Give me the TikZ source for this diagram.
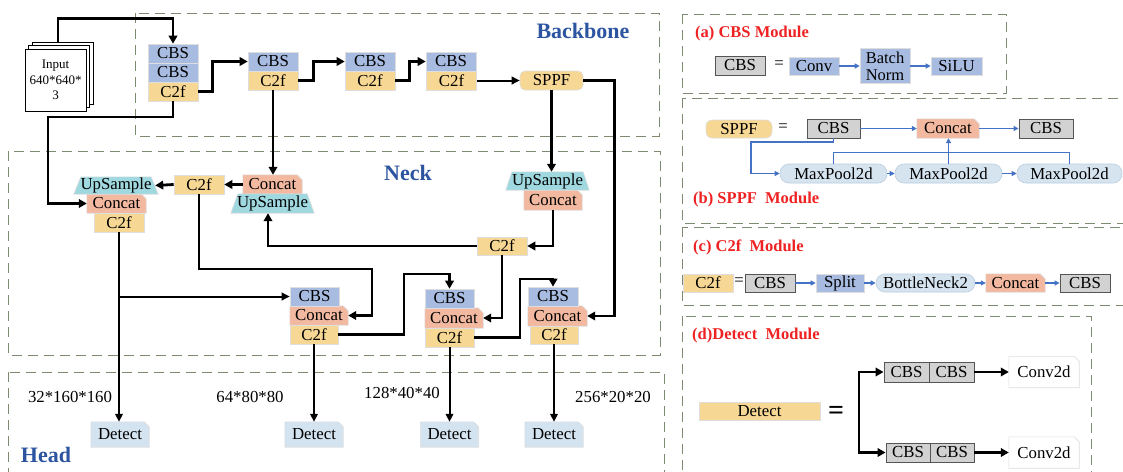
\documentclass[tikz,border=0pt]{standalone}
\usepackage{fontspec}
\setmainfont{Liberation Serif}
\usetikzlibrary{arrows.meta,backgrounds}
\definecolor{cbsblue}{RGB}{168,187,224}
\definecolor{c2fyel}{RGB}{247,215,148}
\definecolor{catsal}{RGB}{242,185,160}
\definecolor{upteal}{RGB}{160,216,224}
\definecolor{detblue}{RGB}{212,227,240}
\definecolor{mpblue}{RGB}{214,228,240}
\definecolor{mpedge}{RGB}{185,205,222}
\definecolor{cbsgray}{RGB}{210,210,210}
\definecolor{grayedge}{RGB}{85,85,85}
\definecolor{edgelt}{RGB}{222,222,222}
\definecolor{dashcol}{RGB}{125,140,112}
\definecolor{titleblue}{RGB}{44,84,160}
\definecolor{modred}{RGB}{238,34,34}
\definecolor{arrblue}{RGB}{68,114,196}
\newcommand\mycut[3]{\filldraw[fill=#2,draw=#3,line width=0.6] (#1.south west) -- (#1.south east) -- ([yshift=-5pt]#1.north east) -- ([xshift=-5pt]#1.north east) -- (#1.north west) -- cycle;}
\newcommand\mytrap[2]{\filldraw[fill=upteal,draw=edgelt,line width=0.6] (#1.south west) -- (#1.south east) -- ([xshift=-#2pt]#1.north east) -- ([xshift=#2pt]#1.north west) -- cycle;}
\tikzset{
 txt/.style={font=\fontsize{16.8}{18}\selectfont},
 bx/.style={txt, inner sep=0pt, minimum height=19, draw=edgelt, line width=0.6},
 cbs/.style={bx, fill=cbsblue, minimum width=50},
 c2f/.style={bx, fill=c2fyel, minimum width=50},
 shp/.style={txt, inner sep=0pt, minimum height=19},
 gcbs/.style={bx, fill=cbsgray, draw=grayedge, line width=0.9, minimum width=50},
 modbox/.style={bx, fill=cbsblue, minimum width=50},
 pill/.style={bx, fill=mpblue, draw=mpedge, rounded corners=9},
 area/.style={draw=dashcol, line width=1, dash pattern=on 10pt off 6pt},
 ttl/.style={font=\fontsize{22}{24}\selectfont\bfseries, text=titleblue},
 modttl/.style={font=\fontsize{16.5}{18}\selectfont\bfseries, text=modred, anchor=west, inner sep=0},
 fa/.style={line width=2.8, line join=miter, -{Triangle[length=8pt,width=8.5pt]}},
 ta/.style={line width=2.0, -{Triangle[length=8pt,width=7.5pt]}},
 ba/.style={draw=arrblue, line width=1.1, -{Triangle[length=5pt,width=5pt]}},
 bl/.style={draw=arrblue, line width=1.1},
 sheet/.style={draw, fill=white, minimum width=61, minimum height=62, inner sep=0, line width=0.8},
}
\begin{document}
\begin{tikzpicture}[x=1pt,y=-1pt]
\useasboundingbox (0,0) rectangle (1123,471);
\clip (0,0) rectangle (1123,471);
% areas
\draw[area] (135,13) rectangle (659,136);
\draw[area] (8,151) rectangle (660,355);
\draw[area] (8,372) rectangle (664,490);
\draw[area] (682,14) rectangle (1006,93);
\draw[area] (682,98) rectangle (1135,223);
\draw[area] (682,227) rectangle (1135,305);
\draw[area] (682,316) rectangle (1091,490);
% titles
\node[ttl] (tbb) at (583,31) {Backbone};
\node[ttl] (tnk) at (408,173) {Neck};
\node[ttl] (thd) at (46,455) {Head};
% input
\node[sheet] (inb) at (62.5,73) {};
\node[sheet] (inm) at (59,76.5) {};
\node[sheet, align=center, font=\fontsize{13}{15.5}\selectfont] (inp) at (55.5,80) {Input\\640*640*\\3};
% backbone
\node[cbs] (b1a) at (173,53.5) {CBS};
\node[cbs] (b1b) at (173,72.5) {CBS};
\node[c2f] (b1c) at (173,91.5) {C2f};
\node[cbs] (b2a) at (273,61.5) {CBS};
\node[c2f] (b2b) at (273,80.5) {C2f};
\node[cbs] (b3a) at (370,61.5) {CBS};
\node[c2f] (b3b) at (370,80.5) {C2f};
\node[cbs] (b4a) at (451,61.5) {CBS};
\node[c2f] (b4b) at (451.5,80.5) {C2f};
\node[bx, fill=c2fyel, minimum width=63, rounded corners=5] (sppf) at (551.5,80.5) {SPPF};
% neck
\node[shp, minimum width=83, minimum height=18] (upR) at (547.5,181) {UpSample};
\node[shp, minimum width=58, minimum height=20] (ccR) at (553,200) {Concat};
\node[c2f, minimum height=18] (c2R) at (502,246) {C2f};
\node[shp, minimum width=59] (ccM) at (272.5,184.5) {Concat};
\node[shp, minimum width=83] (upM) at (272.5,203.5) {UpSample};
\node[c2f] (c2M) at (199,184.5) {C2f};
\node[shp, minimum width=84, minimum height=17] (upL) at (116,185.5) {UpSample};
\node[shp, minimum width=59] (ccL) at (116.5,203.5) {Concat};
\node[c2f] (c2L) at (119,222.5) {C2f};
\node[cbs, minimum width=49] (k1a) at (314.5,296.5) {CBS};
\node[shp, minimum width=58] (k1b) at (319,315.5) {Concat};
\node[c2f, minimum width=48] (k1c) at (314,334.5) {C2f};
\node[cbs, minimum width=49] (k2a) at (449.5,298.5) {CBS};
\node[shp, minimum width=58, minimum height=20] (k2b) at (454,318) {Concat};
\node[c2f, minimum width=49] (k2c) at (449.5,337.5) {C2f};
\node[cbs] (k3a) at (553,296.5) {CBS};
\node[shp, minimum width=59, minimum height=20] (k3b) at (557.5,316) {Concat};
\node[c2f, minimum width=48, minimum height=18] (k3c) at (554,335) {C2f};
% head
\node[shp, minimum width=58, minimum height=25] (d1) at (120,434.5) {Detect};
\node[shp, minimum width=58, minimum height=25] (d2) at (314,434.5) {Detect};
\node[shp, minimum width=58, minimum height=25] (d3) at (449.5,434.5) {Detect};
\node[shp, minimum width=58, minimum height=25] (d4) at (554,434.5) {Detect};
\node[txt] (s1) at (70,397) {32*160*160};
\node[txt] (s2) at (250,397) {64*80*80};
\node[txt] (s3) at (402,393) {128*40*40};
\node[txt] (s4) at (613,397) {256*20*20};
% main connectors
\draw[fa] ([xshift=-4.5pt]inb.north) -- ++(0,-23) -| (b1a.north);
\draw[fa] (b1c.east) -- ++(14,0) |- (b2a.west);
\draw[fa] (b2b.east) -- ++(15,0) |- (b3a.west);
\draw[fa] (b3b.east) -- ++(14,0) |- (b4a.west);
\draw[ta] (b4b.east) -- (sppf.west);
\draw[fa] (sppf.east) -- ++(31,0) |- (k3b.east);
\draw[fa] (sppf.south) -- (sppf.south |- upR.north);
\coordinate (lft) at (48,117);
\draw[fa] (b1c.south) |- (lft) |- (ccL.west);
\draw[fa] (b2b.south) -- (b2b.south |- ccM.north);
\draw[fa] (ccM.west) -- (c2M.east);
\draw[fa] (c2M.west) -- ([xshift=-3pt]upL.east);
\draw[fa] (ccR.south) |- (c2R.east);
\draw[fa] (c2R.west) -| ([xshift=-4.5pt]upM.south);
\coordinate (m1) at (372,269);
\draw[fa] (c2M.south) |- (m1) |- (k1b.east);
\draw[fa] (c2R.south) |- (k2b.east);
\coordinate (m2) at (404,274);
\draw[fa] (k1c.east) -| (m2) -| (k2a.north);
\coordinate (m3) at (520,279);
\draw[fa] (k2c.east) -| (m3) -| (k3a.north);
\draw[ta] (c2L.south) -- (c2L.south |- d1.north);
\coordinate (br) at (c2L.south |- k1a.west);
\draw[ta] (br) -- (k1a.west);
\draw[ta] (k1c.south) -- (k1c.south |- d2.north);
\draw[ta] (k2c.south) -- (k2c.south |- d3.north);
\draw[ta] (k3c.south) -- (k3c.south |- d4.north);
% (a)
\node[modttl] (ta) at (695,34) {(a) CBS Module};
\node[gcbs] (acbs) at (740,65.5) {CBS};
\node[txt] (aeq) at (779,65) {=};
\node[modbox, minimum height=18] (aconv) at (814,66) {Conv};
\node[modbox, minimum height=35, align=center, font=\fontsize{16.5}{17}\selectfont] (abn) at (885,66) {Batch\\Norm};
\node[modbox, minimum height=18, minimum width=51] (asilu) at (956.5,66) {SiLU};
\draw[ba] (aconv.east) -- (abn.west);
\draw[ba] (abn.east) -- (asilu.west);
% (b)
\node[bx, fill=c2fyel, minimum width=66, minimum height=18, rounded corners=6] (bsppf) at (739,129) {SPPF};
\node[txt] (beq) at (783,128) {=};
\node[gcbs, minimum width=53] (bcbs1) at (833.5,128.5) {CBS};
\node[shp, minimum width=62] (bcc) at (948,128.5) {Concat};
\node[gcbs, minimum width=54] (bcbs2) at (1046,128.5) {CBS};
\node[pill, minimum width=107] (mp1) at (833.5,173.5) {MaxPool2d};
\node[pill, minimum width=107] (mp2) at (948.5,173.5) {MaxPool2d};
\node[pill, minimum width=105] (mp3) at (1069.5,173.5) {MaxPool2d};
\node[modttl] (tb) at (693,200) {(b) SPPF\ \ Module};
\coordinate (bq) at (751,142);
\draw[ba] (bcbs1.east) -- (bcc.west);
\draw[ba] (bcc.east) -- (bcbs2.west);
\draw[ba] (bcbs1.south) |- (bq) |- (mp1.west);
\draw[ba] (mp1.east) -- (mp2.west);
\draw[ba] (mp2.east) -- (mp3.west);
\draw[bl] (mp1.north) -- ++(0,-11) -| (mp3.north);
\draw[ba] (mp2.north) -- (mp2.north |- bcc.south);
% (c)
\node[modttl] (tc) at (693,247) {(c) C2f\ \ Module};
\node[c2f, minimum height=18] (cc2f) at (708,283) {C2f};
\node[txt] (ceq) at (739,282) {=};
\node[gcbs, minimum height=18] (ccbs1) at (770,283) {CBS};
\node[modbox, minimum width=48, minimum height=18] (csplit) at (840,283) {Split};
\node[pill, minimum width=99, minimum height=18] (cbn) at (925.5,283) {BottleNeck2};
\node[shp, minimum width=59, minimum height=18] (ccc) at (1015.5,283) {Concat};
\node[gcbs, minimum height=18] (ccbs2) at (1085,283) {CBS};
\draw[ba] (ccbs1.east) -- (csplit.west);
\draw[ba] (csplit.east) -- (cbn.west);
\draw[ba] (cbn.east) -- (ccc.west);
\draw[ba] (ccc.east) -- (ccbs2.west);
% (d)
\node[modttl] (td) at (692,336) {(d)Detect\ \ Module};
\node[c2f, minimum width=121, minimum height=18] (ddet) at (759.5,411) {Detect};
\node[font=\fontsize{28}{30}\selectfont\bfseries] (deq) at (836,413) {=};
\node[gcbs, minimum width=45, minimum height=20] (d1a) at (906.5,372) {CBS};
\node[gcbs, minimum width=45, minimum height=20] (d1b) at (951.5,372) {CBS};
\node[gcbs, minimum width=44, minimum height=19] (d2a) at (908,452.5) {CBS};
\node[gcbs, minimum width=44, minimum height=19] (d2b) at (952,452.5) {CBS};
\node[shp, minimum width=70, minimum height=31] (dc1) at (1044,372) {Conv2d};
\node[shp, minimum width=70, minimum height=31] (dc2) at (1044,452.5) {Conv2d};
\coordinate (dt) at (859,372);
\coordinate (db) at (859,452.5);
\draw[line width=2.8, line join=miter, {Triangle[length=8pt,width=8.5pt]}-{Triangle[length=8pt,width=8.5pt]}] (d1a.west) -- (dt) -- (db) -- (d2a.west);
\draw[fa] (d1b.east) -- (d1b.east -| dc1.west);
\draw[fa] (d2b.east) -- (d2b.east -| dc2.west);
% background shapes
\begin{pgfonlayer}{background}
\mycut{ccR}{catsal}{edgelt}
\mycut{ccM}{catsal}{edgelt}
\mycut{ccL}{catsal}{edgelt}
\mycut{k1b}{catsal}{edgelt}
\mycut{k2b}{catsal}{edgelt}
\mycut{k3b}{catsal}{edgelt}
\mycut{bcc}{catsal}{edgelt}
\mycut{ccc}{catsal}{edgelt}
\mycut{d1}{detblue}{edgelt}
\mycut{d2}{detblue}{edgelt}
\mycut{d3}{detblue}{edgelt}
\mycut{d4}{detblue}{edgelt}
\mycut{dc1}{white}{edgelt}
\mycut{dc2}{white}{edgelt}
\mytrap{upR}{6}
\mytrap{upM}{7}
\mytrap{upL}{7}
\end{pgfonlayer}
\end{tikzpicture}
\end{document}
